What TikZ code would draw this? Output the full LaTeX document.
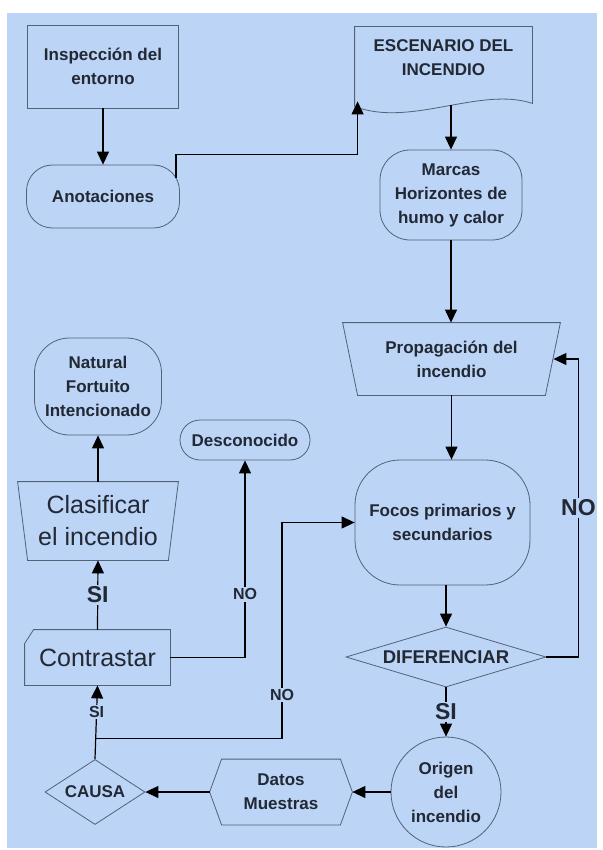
\documentclass[tikz,border=0pt]{standalone}
\usepackage{fontspec}
\setmainfont{Liberation Sans}
\usetikzlibrary{positioning,arrows.meta,shapes.geometric}

\definecolor{bgblue}{RGB}{188,212,246}
\definecolor{edge}{RGB}{84,98,120}
\definecolor{ink}{RGB}{34,40,52}

\tikzset{
  box/.style={draw=edge, line width=0.8pt, text=ink, align=center,
    font=\bfseries\fontsize{17}{24}\selectfont, inner sep=0pt},
  ghost/.style={box, draw=none},
  bigtext/.style={font=\fontsize{25}{32}\selectfont},
  outline/.style={draw=edge, line width=0.8pt},
  arr/.style={-{Triangle[length=13pt,width=12pt]}, line width=1.2pt, black},
  lbl/.style={fill=bgblue, inner sep=1.5pt, text=ink, font=\bfseries\fontsize{16}{20}\selectfont},
  biglbl/.style={lbl, font=\bfseries\fontsize{23}{28}\selectfont}
}

\begin{document}
\begin{tikzpicture}[x=1pt,y=1pt]
  \useasboundingbox (0,0) rectangle (602,-850);
  \fill[white] (0,0) rectangle (602,-850);
  \fill[bgblue] (7,-13) rectangle (597,-848);

  % top row
  \node[box, minimum width=151pt, minimum height=83pt] (insp) at (103,-66.5) {Inspección del\\entorno};
  \node[box, rounded corners=26pt, minimum width=153pt, minimum height=63pt] (anot) at (103,-196.5) {Anotaciones};
  \node[ghost, minimum width=177pt, minimum height=62pt] (esc) at (443.5,-58) {ESCENARIO DEL\\INCENDIO};
  \draw[outline] ([yshift=-17pt]esc.south west) -- (esc.north west) -- (esc.north east)
    -- ([yshift=-14pt]esc.south east) .. controls (480,-86) and (410,-128) .. ([yshift=-17pt]esc.south west);
  \node[box, rounded corners=30pt, minimum width=142pt, minimum height=90pt] (marcas) at (451,-195) {Marcas\\Horizontes de\\humo y calor};

  % right column
  \node[ghost, minimum width=217pt, minimum height=72pt] (prop) at (451.5,-359) {Propagación del\\incendio};
  \draw[outline] (prop.north west) -- (prop.north east) -- ([xshift=-15pt]prop.south east)
    -- ([xshift=15pt]prop.south west) -- cycle;
  \node[box, rounded corners=45pt, minimum width=175pt, minimum height=125pt] (focos) at (442.5,-522.5) {Focos primarios y\\secundarios};
  \node[box, diamond, aspect=3.3, minimum width=200pt, minimum height=60pt,
    font=\bfseries\fontsize{18.5}{24}\selectfont] (dif) at (446,-657) {DIFERENCIAR};
  \node[box, circle, minimum size=110pt] (orig) at (446,-792) {Origen\\del\\incendio};

  % bottom row
  \node[ghost, minimum width=142pt, minimum height=65pt] (datos) at (281,-792) {Datos\\Muestras};
  \draw[outline] (datos.west) -- ([xshift=12pt]datos.north west) -- ([xshift=-12pt]datos.north east)
    -- (datos.east) -- ([xshift=-12pt]datos.south east) -- ([xshift=12pt]datos.south west) -- cycle;
  \node[box, diamond, aspect=1.5, minimum width=100pt, minimum height=65pt] (causa) at (95,-792) {CAUSA};

  % left column
  \node[ghost, bigtext, minimum width=145pt, minimum height=55pt] (contr) at (97.5,-657.5) {Contrastar};
  \draw[outline] (contr.south west) -- ([yshift=-14pt]contr.north west) -- ([xshift=9pt]contr.north west)
    -- (contr.north east) -- (contr.south east) -- cycle;
  \node[ghost, bigtext, minimum width=160pt, minimum height=78pt] (clas) at (98,-521) {Clasificar\\el incendio};
  \draw[outline] (clas.north west) -- (clas.north east) -- ([xshift=-10pt]clas.south east)
    -- ([xshift=10pt]clas.south west) -- cycle;
  \node[box, rounded corners=35pt, minimum width=127pt, minimum height=97pt] (nat) at (98,-386.5) {Natural\\Fortuito\\Intencionado};
  \node[box, rounded corners=20pt, minimum width=130pt, minimum height=40pt] (desc) at (245,-440) {Desconocido};

  % connectors
  \coordinate (anotout) at ([shift={(-4pt,-13pt)}]anot.north east);
  \coordinate (escin) at ([shift={(3pt,-12pt)}]esc.south west);
  \coordinate (escout) at ([yshift=-16pt]esc.south);
  \coordinate (propin) at ([xshift=-7pt]prop.east);
  \coordinate (split) at ([yshift=21pt]causa.north);

  \draw[arr] (insp) -- (anot);
  \draw[arr] (anotout) -- ++(0,23) -| (escin);
  \draw[arr] (marcas.north |- escout) -- (marcas.north);
  \draw[arr] (marcas.south) -- (marcas.south |- prop.north);
  \draw[arr] (prop.south) -- (prop.south |- focos.north);
  \draw[arr] (dif.north |- focos.south) -- (dif.north);
  \draw[arr] (dif.east) -- ++(32,0) |- node[biglbl, pos=0.25]{NO} (propin);
  \draw[arr] (dif.south) -- node[biglbl]{SI} (orig.north);
  \draw[arr] (orig.west) -- (datos.east);
  \draw[arr] (datos.west) -- (causa.east);
  \draw[arr] (causa.north) -- node[lbl, pos=0.64]{SI} (contr.south);
  \draw[arr] (split) -- ++(187,0) |- node[lbl, pos=0.1]{NO} (focos.west);
  \draw[arr] (contr.east) -| node[lbl, pos=0.66]{NO} (desc.south);
  \draw[arr] (contr.north) -- node[biglbl]{SI} (clas.south);
  \draw[arr] (clas.north) -- (nat.south);
\end{tikzpicture}
\end{document}
